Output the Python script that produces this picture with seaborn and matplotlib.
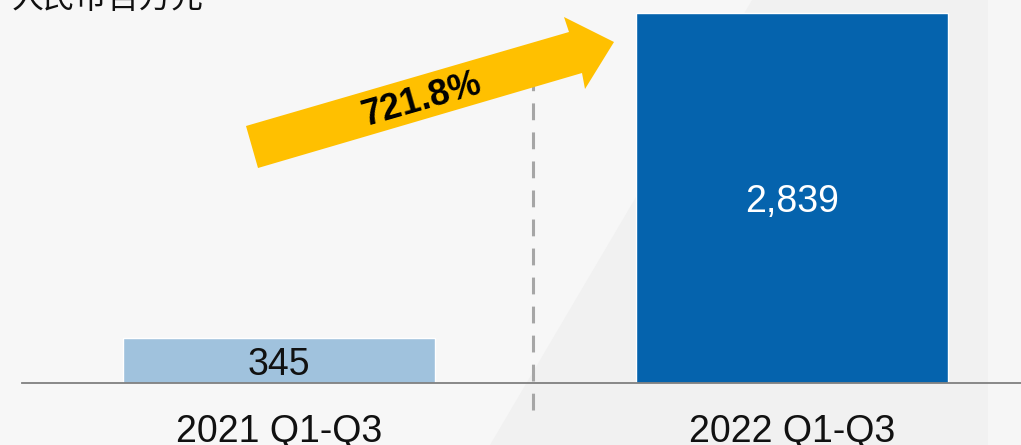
import matplotlib
matplotlib.use("Agg")
import matplotlib.pyplot as plt
import seaborn as sns
import pandas as pd
from matplotlib.patches import Polygon

# data
periods = ["2021 Q1-Q3", "2022 Q1-Q3"]
revenue = [345, 2839]
bar_colors = ["#a0c2dd", "#0563ad"]
label_colors = ["#111111", "#ffffff"]
growth_label = "721.8%"
unit_label = "人民币百万元"

W, H = 1021, 445
sns.set_theme(style="white")
plt.rcParams["font.family"] = ["Liberation Sans", "Noto Sans CJK SC", "DejaVu Sans"]

fig = plt.figure(figsize=(W / 100, H / 100), dpi=100)
fig.patch.set_facecolor("#f7f7f7")


def px(x, y):
    return (x / W, 1 - y / H)


# subtle background shapes
fig.patches.append(Polygon([px(490, 445), px(752, 0), px(990, 0), px(990, 445)],
                           closed=True, transform=fig.transFigure,
                           facecolor="#f1f1f1", edgecolor="none", zorder=-5))
fig.patches.append(Polygon([px(988, 0), px(1021, 0), px(1021, 445), px(988, 445)],
                           closed=True, transform=fig.transFigure,
                           facecolor="#f6f6f6", edgecolor="none", zorder=-4))

ax = fig.add_axes([22 / W, (H - 383) / H, 1 - 22 / W, 383 / H])
ax.set_facecolor("none")

df = pd.DataFrame({"period": periods, "revenue": revenue})
sns.barplot(data=df, x="period", y="revenue", hue="period", palette=bar_colors,
            width=0.608, legend=False, saturation=1, ax=ax)

scale = 2839 / 370  # data units per pixel
ax.set_xlim(-(279 - 22) / 513, 1 + (1021 - 792) / 513)
ax.set_ylim(0, 383 * scale)

for i, v in enumerate(revenue):
    ax.text(i, v / 2, f"{v:,}", ha="center", va="center_baseline", fontsize=27,
            color=label_colors[i])

# dashed divider
ax.plot([0.495, 0.495], [-27 * scale, 308 * scale], color="#a6a6a6", lw=2.2,
        linestyle=(0, (5.5, 4)), clip_on=False, zorder=1)

ax.set_xlabel("")
ax.set_ylabel("")
ax.set_yticks([])
ax.tick_params(axis="x", length=0, pad=22, labelsize=27, labelcolor="#111111")
for s in ["top", "right", "left"]:
    ax.spines[s].set_visible(False)
ax.spines["bottom"].set_color("#808080")
ax.spines["bottom"].set_linewidth(1.3)

# growth arrow
arrow = [px(246, 126), px(569, 32), px(564, 17), px(614, 42),
         px(585, 89), px(582, 73), px(258, 168)]
fig.patches.append(Polygon(arrow, closed=True, transform=fig.transFigure,
                           facecolor="#ffc000", edgecolor="none", zorder=3))
fig.text(*px(422, 100), growth_label, ha="center", va="center", rotation=16,
         rotation_mode="anchor", fontsize=26, fontweight="bold", color="#000000",
         zorder=4)

fig.text(*px(12, 8), unit_label, ha="left", va="baseline", fontsize=23,
         color="#111111", family=["Noto Sans CJK SC", "DejaVu Sans"])

fig.savefig("out.png", dpi=100, facecolor=fig.get_facecolor())
